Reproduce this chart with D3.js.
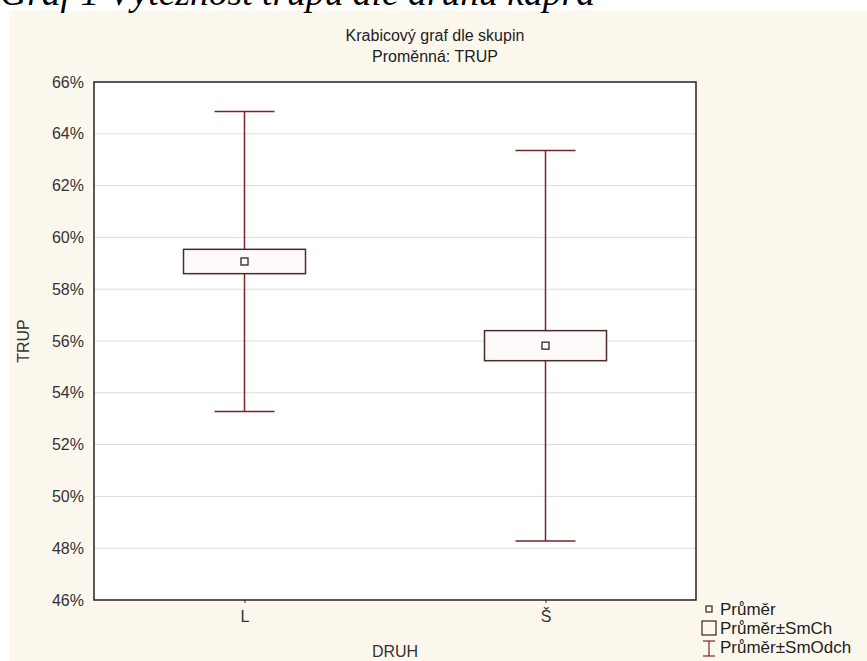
<!DOCTYPE html>
<html>
<head>
<meta charset="utf-8">
<script src="https://cdn.jsdelivr.net/npm/d3@7/dist/d3.min.js"></script>
<style>
  html, body { margin: 0; padding: 0; background: #ffffff; }
  svg { display: block; }
  text { font-family: "Liberation Sans", Arial, sans-serif; }
</style>
</head>
<body>
<svg id="chart" width="867" height="661"></svg>
<script>
// Groups and their summary statistics (TRUP, %)
const groups = ["L", "Š"];
const means = [59.07, 55.82];
const stdErrs = [0.47, 0.58];
const stdDevs = [5.79, 7.54];
const yTicks = [46, 48, 50, 52, 54, 56, 58, 60, 62, 64, 66];
const legendLabels = ["Průměr", "Průměr±SmCh", "Průměr±SmOdch"];

const svg = d3.select("#chart");
const W = 867, H = 661;
const margin = { left: 94, top: 82, right: 696, bottom: 600 };

// Cream page panel
svg.append("rect").attr("x", 9).attr("y", 11).attr("width", W - 9).attr("height", H - 11)
  .attr("fill", "#fcf8ee");

// Caption above the panel (clipped by the page top)
const cap = svg.append("text")
  .attr("x", 0).attr("y", 5)
  .style("font-family", "'Liberation Serif', 'Times New Roman', serif")
  .style("font-style", "italic")
  .style("font-size", "30px")
  .attr("fill", "#000")
  .text("Graf 1 Výtěžnost trupu dle druhu kapra");
const capW = cap.node().getComputedTextLength();
cap.style("font-size", (30 * 595 / capW) + "px");

const x = d3.scalePoint().domain(groups).range([margin.left, margin.right]).padding(0.5);
const y = d3.scaleLinear().domain([46, 66]).range([margin.bottom, margin.top]);

// Plot area
svg.append("rect")
  .attr("x", margin.left).attr("y", margin.top)
  .attr("width", margin.right - margin.left).attr("height", margin.bottom - margin.top)
  .attr("fill", "#ffffff");

// Horizontal gridlines
svg.append("g").selectAll("line").data(yTicks.slice(1, -1)).join("line")
  .attr("x1", margin.left).attr("x2", margin.right)
  .attr("y1", d => y(d)).attr("y2", d => y(d))
  .attr("stroke", "#dcdcdc").attr("stroke-width", 1);

// Axes
const yAxis = d3.axisLeft(y).tickValues(yTicks).tickFormat(d => d + "%").tickSize(0).tickPadding(10);
const gy = svg.append("g").attr("transform", `translate(${margin.left},0)`).call(yAxis);
gy.select(".domain").remove();
gy.selectAll("text").style("font-size", "16px").attr("fill", "#333");

const xAxis = d3.axisBottom(x).tickSize(3).tickPadding(8);
const gx = svg.append("g").attr("transform", `translate(0,${margin.bottom})`).call(xAxis);
gx.select(".domain").remove();
gx.selectAll("line").attr("stroke", "#333");
gx.selectAll("text").style("font-size", "16px").attr("fill", "#333");

// Frame
svg.append("rect")
  .attr("x", margin.left).attr("y", margin.top)
  .attr("width", margin.right - margin.left).attr("height", margin.bottom - margin.top)
  .attr("fill", "none").attr("stroke", "#222").attr("stroke-width", 1.5);

// Boxes: mean ± SD whiskers, mean ± SE box, mean marker
const whiskerColor = "#7e2226";
const boxColor = "#4e2a2a";
const capHalf = 30, boxHalf = 61, markHalf = 3.5;
const rows = groups.map((g, i) => ({ g, m: means[i], se: stdErrs[i], sd: stdDevs[i] }));
const boxes = svg.append("g").selectAll("g").data(rows).join("g");

boxes.append("line")
  .attr("x1", d => x(d.g)).attr("x2", d => x(d.g))
  .attr("y1", d => y(d.m + d.sd)).attr("y2", d => y(d.m - d.sd))
  .attr("stroke", whiskerColor).attr("stroke-width", 1.5);
boxes.append("line")
  .attr("x1", d => x(d.g) - capHalf).attr("x2", d => x(d.g) + capHalf)
  .attr("y1", d => y(d.m + d.sd)).attr("y2", d => y(d.m + d.sd))
  .attr("stroke", whiskerColor).attr("stroke-width", 1.5);
boxes.append("line")
  .attr("x1", d => x(d.g) - capHalf).attr("x2", d => x(d.g) + capHalf)
  .attr("y1", d => y(d.m - d.sd)).attr("y2", d => y(d.m - d.sd))
  .attr("stroke", whiskerColor).attr("stroke-width", 1.5);
boxes.append("rect")
  .attr("x", d => x(d.g) - boxHalf).attr("width", boxHalf * 2)
  .attr("y", d => y(d.m + d.se)).attr("height", d => y(d.m - d.se) - y(d.m + d.se))
  .attr("fill", "#fffafa").attr("stroke", boxColor).attr("stroke-width", 1.5);
boxes.append("rect")
  .attr("x", d => x(d.g) - markHalf).attr("width", markHalf * 2)
  .attr("y", d => y(d.m) - markHalf).attr("height", markHalf * 2)
  .attr("fill", "#fffafa").attr("stroke", "#3a2222").attr("stroke-width", 1.3);

// Titles
svg.append("text").attr("x", 435).attr("y", 41).attr("text-anchor", "middle")
  .style("font-size", "16px").attr("fill", "#222").text("Krabicový graf dle skupin");
svg.append("text").attr("x", 435).attr("y", 62).attr("text-anchor", "middle")
  .style("font-size", "16px").attr("fill", "#222").text("Proměnná: TRUP");

// Axis titles
svg.append("text").attr("x", 395).attr("y", 657).attr("text-anchor", "middle")
  .style("font-size", "16px").attr("fill", "#333").text("DRUH");
svg.append("text").attr("transform", `translate(29,${(margin.top + margin.bottom) / 2}) rotate(-90)`)
  .attr("text-anchor", "middle").style("font-size", "16px").attr("fill", "#333").text("TRUP");

// Legend
const lg = svg.append("g");
const lx = 720, rowsY = [609, 628, 647];
lg.selectAll("text").data(legendLabels).join("text")
  .attr("x", lx).attr("y", (d, i) => rowsY[i] + 6)
  .style("font-size", "17px").attr("fill", "#222").text(d => d);
lg.append("rect").attr("x", 706).attr("y", rowsY[0] - 3).attr("width", 6).attr("height", 6)
  .attr("fill", "none").attr("stroke", "#3a2222").attr("stroke-width", 1.2);
lg.append("rect").attr("x", 702).attr("y", rowsY[1] - 7).attr("width", 14).attr("height", 14)
  .attr("fill", "none").attr("stroke", "#3a2222").attr("stroke-width", 1.2);
lg.append("line").attr("x1", 703).attr("x2", 715).attr("y1", rowsY[2] - 6).attr("y2", rowsY[2] - 6)
  .attr("stroke", whiskerColor).attr("stroke-width", 1.2);
lg.append("line").attr("x1", 709).attr("x2", 709).attr("y1", rowsY[2] - 6).attr("y2", rowsY[2] + 9)
  .attr("stroke", whiskerColor).attr("stroke-width", 1.2);
lg.append("line").attr("x1", 703).attr("x2", 715).attr("y1", rowsY[2] + 9).attr("y2", rowsY[2] + 9)
  .attr("stroke", whiskerColor).attr("stroke-width", 1.2);
</script>
</body>
</html>
